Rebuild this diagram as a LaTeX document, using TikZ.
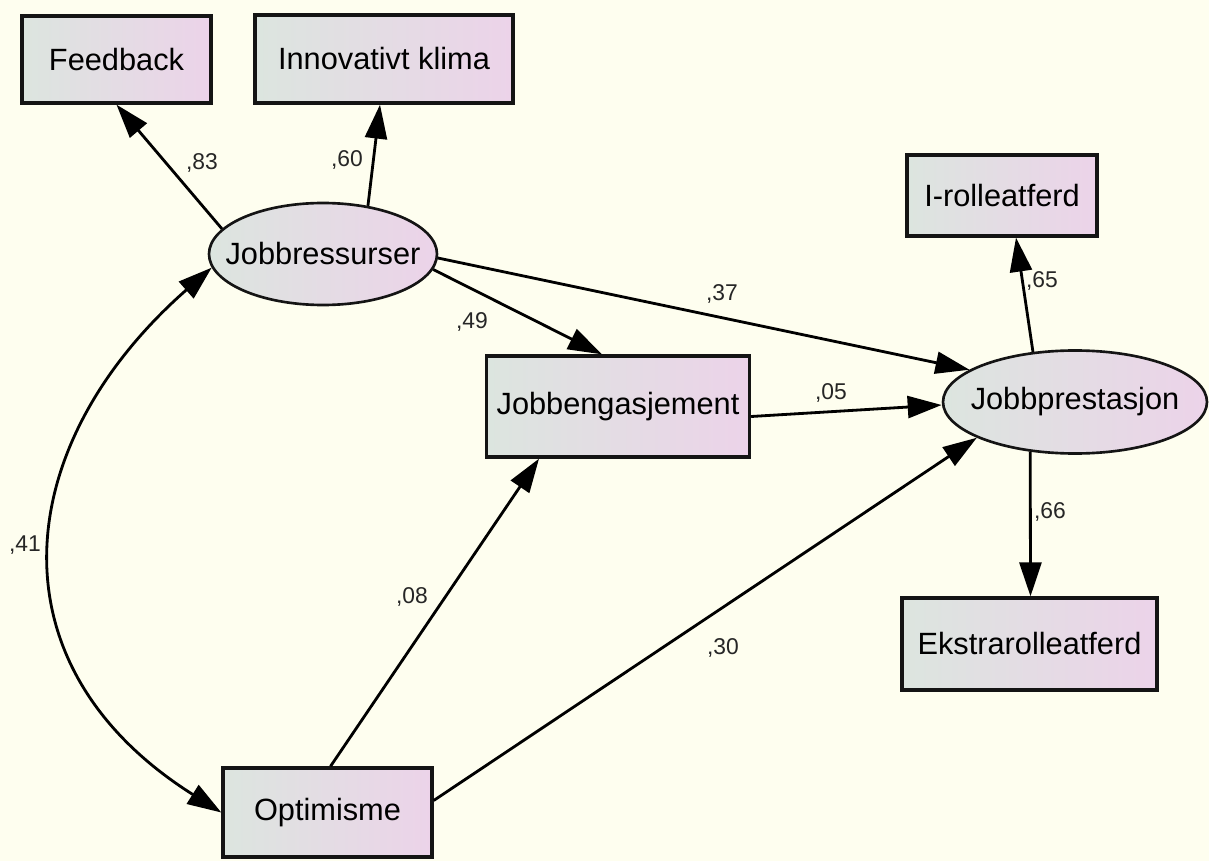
\documentclass[tikz,border=0pt]{standalone}
\usepackage{fontspec}
\setmainfont{Liberation Sans}
\usetikzlibrary{arrows.meta,calc,shapes.geometric}
\definecolor{bgcol}{HTML}{FEFEEF}
\definecolor{shadeL}{HTML}{DCE5DF}
\definecolor{shadeR}{HTML}{ECD3E9}
\definecolor{edgecol}{HTML}{141414}
\tikzset{
  obsbox/.style={rectangle, draw=edgecol, line width=1.9pt, left color=shadeL, right color=shadeR,
    inner sep=0pt, font=\fontsize{17.5}{20}\selectfont},
  latbox/.style={ellipse, draw=edgecol, line width=1.5pt, left color=shadeL, right color=shadeR,
    inner sep=0pt, font=\fontsize{17.5}{20}\selectfont},
  coef/.style={font=\fontsize{13}{15}\selectfont, inner sep=0pt, text=black!85},
  path/.style={line width=1.6pt, -{Triangle[length=0.68cm,width=0.44cm]}},
  cov/.style={line width=1.6pt, {Triangle[length=0.68cm,width=0.44cm]}-{Triangle[length=0.68cm,width=0.44cm]}}
}
\begin{document}
\begin{tikzpicture}[x=0.02cm,y=-0.02cm]
\fill[bgcol] (0,0) rectangle (1209,861);
\useasboundingbox (0,0) rectangle (1209,861);

\node[obsbox, minimum width=189*0.02cm, minimum height=87*0.02cm] (fb) at (116.5,59.5) {Feedback};
\node[obsbox, minimum width=258*0.02cm, minimum height=88*0.02cm] (ik) at (384,59) {Innovativt klima};
\node[latbox, minimum width=228*0.02cm, minimum height=102*0.02cm] (jr) at (323,254) {\makebox[0pt]{Jobbressurser}};
\node[obsbox, minimum width=190*0.02cm, minimum height=81*0.02cm] (ir) at (1002,195.5) {I-rolleatferd};
\node[obsbox, minimum width=263*0.02cm, minimum height=101*0.02cm] (je) at (618,406.5) {Jobbengasjement};
\node[latbox, minimum width=264*0.02cm, minimum height=103*0.02cm] (jp) at (1075,402) {\makebox[0pt]{Jobbprestasjon}};
\node[obsbox, minimum width=255*0.02cm, minimum height=92*0.02cm] (eks) at (1029.5,644) {Ekstrarolleatferd};
\node[obsbox, minimum width=209*0.02cm, minimum height=89*0.02cm] (opt) at (327.5,812.5) {Optimisme};

\draw[path] (jr.166) -- (fb.south);
\draw[path] (jr.47) -- ($(ik.south)+(-4,0)$);
\draw[path] (jr.-8) -- ($(je.north)+(-16,0)$);
\draw[path] (jr.-2) -- (jp.163);
\draw[path] ($(je.east)+(0,10)$) -- ($(jp.west)+(0,3)$);
\draw[path] (jp.130) -- ($(ir.south)+(14,0)$);
\draw[path] (jp.228) -- ($(eks.north)+(1,0)$);
\draw[path] ($(opt.north)+(3,0)$) -- ($(je.south)+(-79,0)$);
\draw[path] ($(opt.east)+(0,-12)$) -- (jp.200);
\draw[cov] (jr.187) .. controls (12,443) and (-14,664) .. (opt.west);

\node[coef] (l83) at (202,163) {,83};
\node[coef] (l60) at (347,160) {,60};
\node[coef] (l49) at (472,322) {,49};
\node[coef] (l37) at (722,294) {,37};
\node[coef] (l65) at (1042,281) {,65};
\node[coef] (l05) at (831,393) {,05};
\node[coef] (l66) at (1050,512) {,66};
\node[coef] (l41) at (25,545) {,41};
\node[coef] (l08) at (412,597) {,08};
\node[coef] (l30) at (723,648) {,30};
\end{tikzpicture}
\end{document}
